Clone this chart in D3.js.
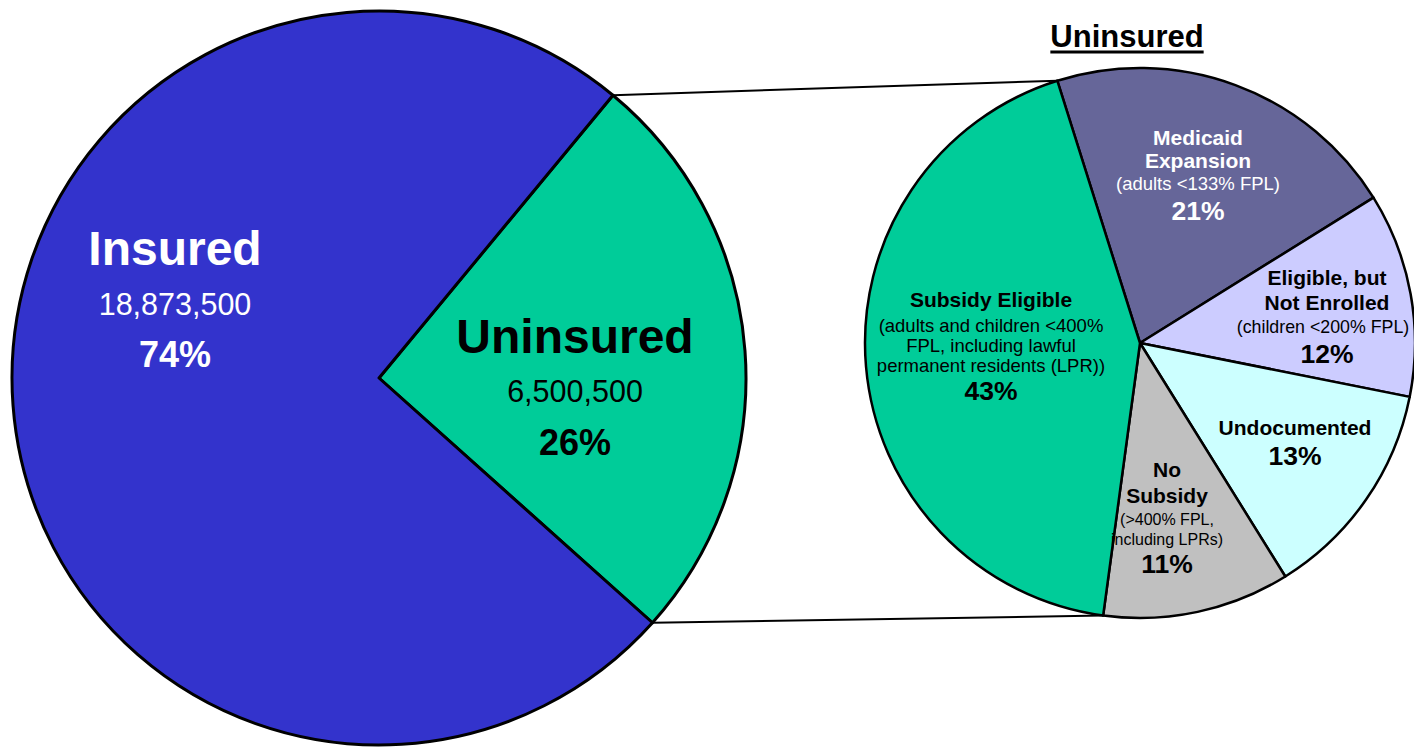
<!DOCTYPE html>
<html>
<head>
<meta charset="utf-8">
<script src="https://cdn.jsdelivr.net/npm/d3@7"></script>
<style>
  html, body { margin: 0; padding: 0; background: #fff; }
  svg { display: block; font-family: "Liberation Sans", Arial, sans-serif; }
</style>
</head>
<body>
<svg id="chart" width="1414" height="750"></svg>
<script>
// ---- Data ----
const mainCategories = ["Uninsured", "Insured"];
const mainValues = [6500500, 18873500];
const mainCounts = ["6,500,500", "18,873,500"];
const mainPercents = ["26%", "74%"];
const mainColors = ["#00CC99", "#3333CC"];

const subCategories = ["Medicaid Expansion", "Eligible, but Not Enrolled", "Undocumented", "No Subsidy", "Subsidy Eligible"];
const subValues = [21, 12, 13, 11, 43];
const subColors = ["#666699", "#CCCCFF", "#CCFFFF", "#C0C0C0", "#00CC99"];
const subTitle = "Uninsured";

// ---- Layout ----
const svg = d3.select("#chart");
const deg = Math.PI / 180;

const big = { cx: 379, cy: 378, r: 367, start: 39.6 * deg };
const small = { cx: 1140, cy: 343, r: 275, start: -17.5 * deg };

const bigPie = d3.pie().sort(null).value(d => d)
  .startAngle(big.start).endAngle(big.start + 2 * Math.PI);
const smallPie = d3.pie().sort(null).value(d => d)
  .startAngle(small.start).endAngle(small.start + 2 * Math.PI);

const bigArcs = bigPie(mainValues);
const smallArcs = smallPie(subValues);

const pt = (c, a) => [c.cx + c.r * Math.sin(a), c.cy - c.r * Math.cos(a)];

// ---- Connector lines (behind pies) ----
const uninsArc = bigArcs[0];
const subStart = smallArcs[0].startAngle;
const subEnd = smallArcs[3].endAngle;
const connectors = [
  [pt(big, uninsArc.startAngle), pt(small, subStart)],
  [pt(big, uninsArc.endAngle), pt(small, subEnd)]
];
svg.append("g").selectAll("line").data(connectors).join("line")
  .attr("x1", d => d[0][0]).attr("y1", d => d[0][1])
  .attr("x2", d => d[1][0]).attr("y2", d => d[1][1])
  .attr("stroke", "#000").attr("stroke-width", 2);

// ---- Big pie ----
const bigArcGen = d3.arc().innerRadius(0).outerRadius(big.r);
svg.append("g").attr("transform", `translate(${big.cx},${big.cy})`)
  .selectAll("path").data(bigArcs).join("path")
  .attr("d", bigArcGen)
  .attr("fill", (d, i) => mainColors[i])
  .attr("stroke", "#000").attr("stroke-width", 3).attr("stroke-linejoin", "round");

// ---- Small pie ----
const smallArcGen = d3.arc().innerRadius(0).outerRadius(small.r);
svg.append("g").attr("transform", `translate(${small.cx},${small.cy})`)
  .selectAll("path").data(smallArcs).join("path")
  .attr("d", smallArcGen)
  .attr("fill", (d, i) => subColors[i])
  .attr("stroke", "#000").attr("stroke-width", 2.5).attr("stroke-linejoin", "round");

// ---- Text helper ----
function label(x, lines, color) {
  const g = svg.append("g");
  lines.forEach(l => {
    g.append("text")
      .attr("x", l.x !== undefined ? l.x : x).attr("y", l.y)
      .attr("text-anchor", "middle")
      .attr("font-size", l.size)
      .attr("font-weight", l.bold ? "bold" : "normal")
      .attr("fill", color)
      .text(l.t);
  });
}

// Big pie labels
label(175, [
  { t: mainCategories[1], y: 265, size: 48, bold: true },
  { t: mainCounts[1], y: 315, size: 30.5 },
  { t: mainPercents[1], y: 367, size: 36, bold: true }
], "#fff");
label(575, [
  { t: mainCategories[0], y: 353, size: 48, bold: true },
  { t: mainCounts[0], y: 402, size: 30.5 },
  { t: mainPercents[0], y: 455, size: 36, bold: true }
], "#000");

// Small pie title
const title = svg.append("text")
  .attr("x", 1127).attr("y", 47)
  .attr("text-anchor", "middle")
  .attr("font-size", 31).attr("font-weight", "bold")
  .attr("fill", "#000").text(subTitle);
const tb = title.node().getBBox();
svg.append("line")
  .attr("x1", tb.x).attr("x2", tb.x + tb.width)
  .attr("y1", 52).attr("y2", 52)
  .attr("stroke", "#000").attr("stroke-width", 3);

// Small pie labels
const B = 21, S = 18.5, P = 26.5;
label(1198, [
  { t: "Medicaid", y: 145, size: B, bold: true },
  { t: "Expansion", y: 168, size: B, bold: true },
  { t: "(adults <133% FPL)", y: 190, size: S },
  { t: subValues[0] + "%", y: 220, size: P, bold: true }
], "#fff");
label(1327, [
  { t: "Eligible, but", y: 285, size: B, bold: true },
  { t: "Not Enrolled", y: 310, size: B, bold: true },
  { t: "(children <200% FPL)", y: 333, size: 17.8, x: 1323 },
  { t: subValues[1] + "%", y: 363, size: P, bold: true }
], "#000");
label(1295, [
  { t: "Undocumented", y: 435, size: B, bold: true },
  { t: subValues[2] + "%", y: 465, size: P, bold: true }
], "#000");
label(1167, [
  { t: "No", y: 477, size: B, bold: true },
  { t: "Subsidy", y: 503, size: B, bold: true },
  { t: "(>400% FPL,", y: 525, size: 16 },
  { t: "including LPRs)", y: 545, size: 16 },
  { t: subValues[3] + "%", y: 573, size: P, bold: true }
], "#000");
label(991, [
  { t: "Subsidy Eligible", y: 307, size: B, bold: true },
  { t: "(adults and children <400%", y: 332, size: S },
  { t: "FPL, including lawful", y: 352, size: S },
  { t: "permanent residents (LPR))", y: 372, size: S },
  { t: subValues[4] + "%", y: 400, size: P, bold: true }
], "#000");
</script>
</body>
</html>
